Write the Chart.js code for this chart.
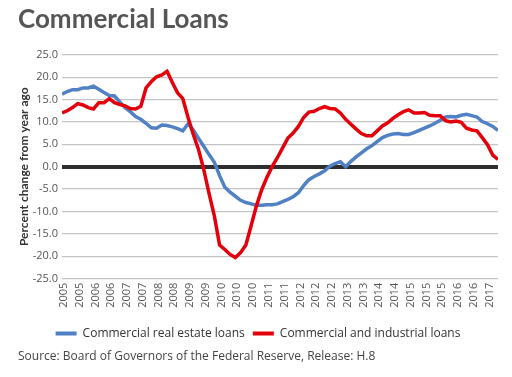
<!DOCTYPE html>
<html><head><meta charset="utf-8">
<script src="https://cdn.jsdelivr.net/npm/chart.js@4.4.0/dist/chart.umd.min.js"></script>
<style>html,body{margin:0;padding:0;background:#fff;}#wrap{width:512px;height:377px;}</style>
</head><body><div id="wrap"><canvas id="c" width="512" height="377"></canvas></div>
<script>
// Tick labels along the time axis (as printed in the reference)
const tickLabels = ['2005','2005','2006','2006','2007','2007','2008','2008','2009','2009','2010','2010','2010','2011','2011','2012','2012','2012','2013','2013','2014','2014','2015','2015','2015','2016','2016','2017'];
// Series sampled every 1/3 of a tick interval, starting slightly before first tick
const seriesStart = -0.127;
const seriesStep = 1 / 3;
// Percent change from year ago
const commercialRealEstate = [16.2,16.8,17.2,17.2,17.6,17.6,18.0,17.3,16.6,15.9,15.8,14.5,13.2,12.3,11.2,10.6,9.7,8.7,8.6,9.3,9.2,8.9,8.5,8.0,9.6,8.2,6.3,4.5,2.7,1.0,-2.0,-4.6,-5.7,-6.6,-7.5,-8.0,-8.3,-8.6,-8.6,-8.5,-8.5,-8.3,-7.8,-7.3,-6.7,-5.8,-4.2,-2.9,-2.2,-1.6,-0.9,0.1,0.7,1.1,0.0,1.2,2.2,3.1,4.0,4.7,5.6,6.5,7.0,7.3,7.4,7.2,7.2,7.6,8.1,8.6,9.1,9.7,10.4,11.1,11.2,11.1,11.5,11.7,11.4,11.1,10.1,9.6,9.0,8.1];
const commercialIndustrial = [12.0,12.5,13.2,14.1,13.8,13.2,12.9,14.3,14.3,15.2,14.3,13.9,13.6,13.0,12.9,13.5,17.6,19.0,20.1,20.5,21.3,18.8,16.5,15.2,11.0,7.2,3.8,-0.7,-6.0,-11.0,-17.5,-18.5,-19.6,-20.3,-19.2,-17.5,-13.2,-8.8,-5.2,-2.4,0.0,2.0,4.2,6.4,7.5,9.0,11.0,12.2,12.4,13.0,13.4,13.0,12.9,12.0,10.6,9.5,8.4,7.4,6.9,6.9,8.0,9.1,9.8,10.8,11.6,12.3,12.7,12.0,12.0,12.1,11.5,11.4,11.4,10.3,10.0,10.2,9.9,8.6,8.2,8.0,6.5,4.9,2.6,1.6];
const seriesNames = ['Commercial real estate loans', 'Commercial and industrial loans'];
const yMin = -25, yMax = 25, yStep = 5;

const toPoints = arr => arr.map((v, i) => ({ x: seriesStart + i * seriesStep, y: v }));
const xMin = seriesStart;
const xMax = seriesStart + (commercialRealEstate.length - 1) * seriesStep;

const BLUE = '#4f81c4', RED = '#e3000b';
const base = 'Open Sans';

new Chart(document.getElementById('c'), {
  type: 'line',
  data: {
    datasets: [
      { label: seriesNames[0], data: toPoints(commercialRealEstate), borderColor: BLUE, backgroundColor: BLUE, borderWidth: 3.5, pointRadius: 0, tension: 0, order: 1 },
      { label: seriesNames[1], data: toPoints(commercialIndustrial), borderColor: RED, backgroundColor: RED, borderWidth: 3.5, pointRadius: 0, tension: 0, order: 0 }
    ]
  },
  options: {
    responsive: false,
    animation: false,
    devicePixelRatio: 1,
    layout: { padding: { top: 4, left: 18, right: 14, bottom: 9 } },
    scales: {
      x: {
        type: 'linear', min: xMin, max: xMax,
        afterBuildTicks: axis => { axis.ticks = tickLabels.map((_, i) => ({ value: i })); },
        afterFit: s => { s.height = 41; },
        grid: { display: false, drawTicks: false },
        border: { display: false },
        ticks: { autoSkip: false, minRotation: 90, maxRotation: 90, padding: 4,
          font: { family: base, size: 11 }, color: '#555',
          callback: v => tickLabels[v] ?? '' }
      },
      y: {
        min: yMin, max: yMax,
        afterFit: s => { s.width = 44; },
        border: { display: false },
        grid: { drawTicks: false,
          color: c => c.tick && c.tick.value === 0 ? '#2e2e2e' : '#c4c4c4',
          lineWidth: c => c.tick && c.tick.value === 0 ? 4 : 1.3 },
        ticks: { stepSize: yStep, padding: 4, font: { family: base, size: 11 }, color: '#555',
          callback: v => v.toFixed(1) },
        title: { display: true, text: 'Percent change from year ago', color: '#333',
          font: { family: 'Lato', size: 12, weight: 'bold', lineHeight: 1 }, padding: { top: 0, bottom: 0 } }
      }
    },
    plugins: {
      tooltip: { enabled: false },
      title: { display: true, text: 'Commercial Loans', align: 'start', color: '#555',
        font: { family: 'Lato', size: 26, weight: 'bold', lineHeight: 1.2 }, padding: { top: 0, bottom: 19.6 } },
      legend: { position: 'bottom', align: 'center',
        labels: { boxWidth: 21, boxHeight: 4, padding: 8, color: '#333', font: { family: base, size: 12 },
          sort: (a, b) => a.datasetIndex - b.datasetIndex,
          generateLabels: ch => Chart.defaults.plugins.legend.labels.generateLabels(ch).map(l => ({ ...l, lineWidth: 0 })) } },
      subtitle: { display: true, text: 'Source: Board of Governors of the Federal Reserve, Release: H.8', position: 'bottom', align: 'start',
        color: '#444', font: { family: base, size: 12 }, padding: { top: 0, bottom: 4 } }
    }
  }
});
</script></body></html>
